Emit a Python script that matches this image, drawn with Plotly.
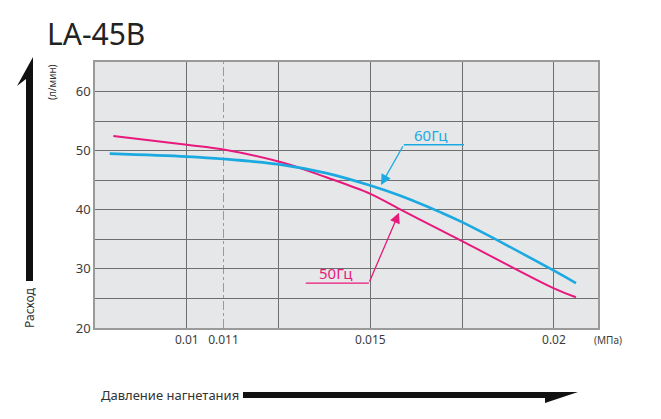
import plotly.graph_objects as go

# data (pressure in MPa, flow in l/min)
pressure_60 = [0.0079, 0.0100, 0.0110, 0.0126, 0.0138, 0.0150, 0.0158, 0.0169, 0.0175, 0.0200, 0.0206]
flow_60 = [49.5, 49.0, 48.6, 47.6, 46.2, 44.1, 42.4, 39.6, 37.9, 29.7, 27.6]

pressure_50 = [0.0080, 0.0100, 0.0110, 0.0126, 0.0138, 0.0150, 0.0158, 0.0169, 0.0175, 0.0200, 0.0206]
flow_50 = [52.5, 51.0, 50.2, 48.0, 45.5, 42.7, 40.1, 36.6, 34.7, 26.7, 25.2]

x_ticks = [0.01, 0.011, 0.015, 0.02]
x_tick_text = ["0.01", "0.011", "0.015", "0.02"]
x_grid = [0.01, 0.0125, 0.015, 0.0175, 0.02]
y_ticks = [20, 30, 40, 50, 60]

# the page body adds an 8px margin, so the figure is drawn 8px smaller
OFF = 8
W, H = 661 - OFF, 419 - OFF
L, R, T, B = 95 - OFF, 63, 62 - OFF, 91
PINK = "#e8197d"
CYAN = "#1ba9e1"
GRID = "#6e6e6e"
TXT = "#3c3c3c"
FONT = "Noto Sans, sans-serif"


# helpers: reference-picture pixels -> paper coords
def px(x):
    return (x - 95) / (W - L - R)


def py(y):
    return (328 - y) / (H - T - B)


def label(text, x, y, size, color="#333", angle=0):
    return dict(text=text, xref="paper", yref="paper", x=px(x), y=py(y),
                xanchor="center", yanchor="middle", textangle=angle,
                showarrow=False, font=dict(family=FONT, size=size, color=color))


fig = go.Figure()
fig.add_trace(go.Scatter(x=pressure_50, y=flow_50, mode="lines", line_shape="spline",
                         line=dict(color=PINK, width=2), hoverinfo="skip"))
fig.add_trace(go.Scatter(x=pressure_60, y=flow_60, mode="lines", line_shape="spline",
                         line=dict(color=CYAN, width=2.6), hoverinfo="skip"))

shapes = [
    # dash-dot marker line at 0.011
    dict(type="line", xref="x", yref="paper", x0=0.011, x1=0.011, y0=0, y1=1,
         line=dict(color="#9a9a9a", width=1, dash="dashdot"), layer="below"),
    # leader line segments
    dict(type="line", xref="x", yref="y", x0=0.01591, x1=0.01755, y0=51.0, y1=51.0,
         line=dict(color=CYAN, width=1.3)),
    dict(type="line", xref="x", yref="y", x0=0.01324, x1=0.01496, y0=27.6, y1=27.6,
         line=dict(color=PINK, width=1.3)),
    # vertical arrow (flow)
    dict(type="path", xref="paper", yref="paper",
         path=f"M {px(33)},{py(57)} L {px(33)},{py(281)} L {px(26)},{py(281)} "
              f"L {px(26)},{py(79)} L {px(17)},{py(86)} Z",
         fillcolor="#111", line=dict(width=0)),
    # horizontal arrow (pressure)
    dict(type="path", xref="paper", yref="paper",
         path=f"M {px(243)},{py(392)} L {px(578)},{py(392)} L {px(545)},{py(403)} "
              f"L {px(545)},{py(398)} L {px(243)},{py(398)} Z",
         fillcolor="#111", line=dict(width=0)),
]

annotations = [
    label("LA-45B", 96, 34, 30, "#222"),
    label("Расход", 29, 308, 12, angle=-90),
    label("(л/мин)", 52, 82, 10, angle=-90),
    label("Давление нагнетания", 170, 395, 13),
    label("(МПа)", 608, 340, 10, TXT),
    dict(text="60Гц", xref="x", yref="y", x=0.01665, y=52.7, showarrow=False,
         xanchor="center", yanchor="middle", font=dict(family=FONT, size=15, color=CYAN)),
    dict(text="50Гц", xref="x", yref="y", x=0.01406, y=29.3, showarrow=False,
         xanchor="center", yanchor="middle", font=dict(family=FONT, size=15, color=PINK)),
    dict(text="", xref="x", yref="y", x=0.01529, y=44.2, axref="x", ayref="y",
         ax=0.01591, ay=51.0, showarrow=True, arrowhead=2, arrowsize=1.6,
         arrowwidth=1.3, arrowcolor=CYAN, standoff=0, startstandoff=0),
    dict(text="", xref="x", yref="y", x=0.01578, y=39.5, axref="x", ayref="y",
         ax=0.01496, ay=27.6, showarrow=True, arrowhead=2, arrowsize=1.6,
         arrowwidth=1.3, arrowcolor=PINK, standoff=0, startstandoff=0),
]

fig.update_layout(
    width=W, height=H,
    margin=dict(l=L, r=R, t=T, b=B),
    paper_bgcolor="white",
    plot_bgcolor="#e6e7e8",
    showlegend=False,
    font=dict(family=FONT, color=TXT, size=12),
    shapes=shapes,
    annotations=annotations,
    xaxis=dict(range=[0.0075, 0.0212], tickvals=x_ticks, ticktext=x_tick_text,
               showgrid=False, zeroline=False, ticks="",
               tickfont=dict(size=12, color=TXT),
               minor=dict(tickvals=x_grid, showgrid=True, gridcolor=GRID, gridwidth=1.2),
               showline=True, mirror=True, linecolor="#9a9a9a", linewidth=1.5),
    yaxis=dict(range=[20, 65], tickvals=y_ticks, showgrid=True, gridcolor=GRID,
               gridwidth=1.2, zeroline=False, ticks="",
               tickfont=dict(size=13, color=TXT),
               minor=dict(dtick=5, showgrid=True, gridcolor=GRID, gridwidth=1.2),
               showline=True, mirror=True, linecolor="#9a9a9a", linewidth=1.5),
)

fig.write_html("out.html")
